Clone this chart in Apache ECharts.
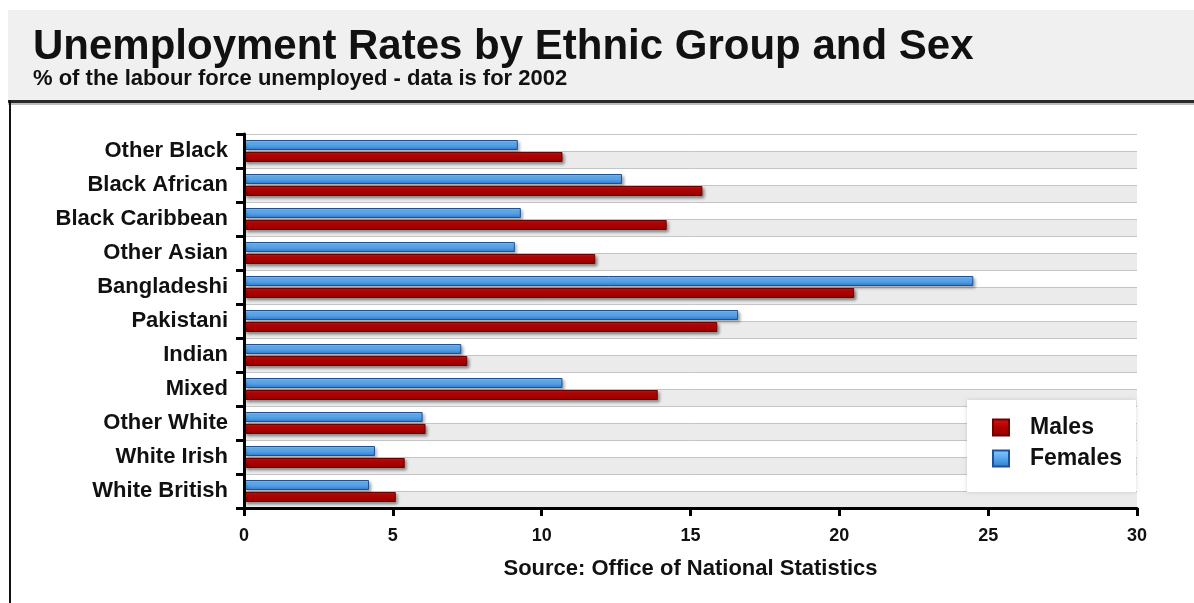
<!DOCTYPE html>
<html>
<head>
<meta charset="utf-8">
<script src="https://cdn.jsdelivr.net/npm/echarts@6/dist/echarts.min.js"></script>
<style>
html,body{margin:0;padding:0;background:#fff;}
#chart{width:1194px;height:603px;}
</style>
</head>
<body>
<div id="chart"></div>
<script>
// Data (categories listed bottom to top)
const categories = ['White British','White Irish','Other White','Mixed','Indian','Pakistani','Bangladeshi','Other Asian','Black Caribbean','Black African','Other Black'];
const males   = [5.1, 5.4, 6.1, 13.9, 7.5, 15.9, 20.5, 11.8, 14.2, 15.4, 10.7];
const females = [4.2, 4.4, 6.0, 10.7, 7.3, 16.6, 24.5, 9.1, 9.3, 12.7, 9.2];
const xTicks = [0, 5, 10, 15, 20, 25, 30];
const titleText = 'Unemployment Rates by Ethnic Group and Sex';
const subtitleText = '% of the labour force unemployed - data is for 2002';
const sourceText = 'Source: Office of National Statistics';

// half-row bands for the striped background
const halfRows = [];
categories.forEach(c => { halfRows.push(c + ' M'); halfRows.push(c + ' F'); });

const chart = echarts.init(document.getElementById('chart'));
const FONT = '"Liberation Sans", Arial, sans-serif';

chart.setOption({
  backgroundColor: '#ffffff',
  animation: false,
  graphic: [
    { type: 'rect', left: 8, top: 10, shape: { width: 1186, height: 91 }, style: { fill: '#f0f0f0' }, z: 0 },
    { type: 'rect', left: 8, top: 100, shape: { width: 1186, height: 3 }, style: { fill: '#2a2a2a' }, z: 1 },
    { type: 'rect', left: 8, top: 103, shape: { width: 1186, height: 2 }, style: { fill: '#bdbdbd' }, z: 1 },
    { type: 'rect', left: 9, top: 100, shape: { width: 2, height: 503 }, style: { fill: '#111' }, z: 1 }
  ],
  title: {
    text: titleText,
    subtext: subtitleText,
    left: 28,
    top: 21,
    itemGap: 0,
    textStyle: { fontFamily: FONT, fontSize: 42, fontWeight: 'bold', color: '#111' },
    subtextStyle: { fontFamily: FONT, fontSize: 22, fontWeight: 'bold', color: '#111', lineHeight: 22 }
  },
  legend: {
    data: ['Males', 'Females'],
    orient: 'vertical',
    left: 967,
    top: 400,
    padding: [16, 14, 22, 25],
    backgroundColor: '#ffffff',
    itemWidth: 16,
    itemHeight: 16,
    itemGap: 8,
    icon: 'rect',
    textStyle: { fontFamily: FONT, fontSize: 23, fontWeight: 'bold', color: '#111', padding: [0, 0, 0, 16] },
    shadowColor: 'rgba(0,0,0,0.15)',
    shadowBlur: 4
  },
  grid: { left: 244, right: 57, top: 134, bottom: 95, containLabel: false },
  xAxis: {
    type: 'value',
    min: 0,
    max: 30,
    interval: 5,
    name: sourceText,
    nameLocation: 'middle',
    nameGap: 50,
    nameTextStyle: { fontFamily: FONT, fontSize: 22, fontWeight: 'bold', color: '#111' },
    axisLine: { show: true, lineStyle: { color: '#000', width: 3 } },
    axisTick: { show: true, length: 8, lineStyle: { color: '#000', width: 3 } },
    axisLabel: { fontFamily: FONT, fontSize: 18, fontWeight: 'bold', color: '#111', margin: 19,
      formatter: v => xTicks.includes(v) ? String(v) : '' },
    splitLine: { show: false }
  },
  yAxis: [
    {
      type: 'category',
      data: categories,
      axisLine: { show: true, lineStyle: { color: '#000', width: 3 } },
      axisTick: { show: true, length: 8, lineStyle: { color: '#000', width: 3 } },
      axisLabel: { fontFamily: FONT, fontSize: 22, fontWeight: 'bold', color: '#111', margin: 16 },
      splitLine: { show: false },
      z: 5
    },
    {
      type: 'category',
      data: halfRows,
      position: 'left',
      axisLine: { show: false },
      axisTick: { show: false },
      axisLabel: { show: false },
      splitLine: { show: true, lineStyle: { color: '#c4c4c4', width: 1 } },
      splitArea: { show: true, areaStyle: { color: ['#ebebeb', '#ffffff'] } },
      z: 0
    }
  ],
  series: [
    {
      name: 'Females',
      type: 'bar',
      yAxisIndex: 0,
      data: females,
      barWidth: 10,
      barGap: '20%',
      itemStyle: {
        color: new echarts.graphic.LinearGradient(0, 0, 0, 1, [
          { offset: 0, color: '#8ccaff' },
          { offset: 0.5, color: '#56a6ee' },
          { offset: 1, color: '#3179cc' }
        ]),
        borderColor: '#1d5296',
        borderWidth: 1,
        shadowColor: 'rgba(0,0,0,0.35)',
        shadowBlur: 3,
        shadowOffsetX: 2,
        shadowOffsetY: 2
      }
    },
    {
      name: 'Males',
      type: 'bar',
      yAxisIndex: 0,
      data: males,
      barWidth: 10,
      barGap: '20%',
      itemStyle: {
        color: new echarts.graphic.LinearGradient(0, 0, 0, 1, [
          { offset: 0, color: '#d41414' },
          { offset: 0.5, color: '#b30000' },
          { offset: 1, color: '#8c0000' }
        ]),
        borderColor: '#6e0000',
        borderWidth: 1,
        shadowColor: 'rgba(0,0,0,0.45)',
        shadowBlur: 3,
        shadowOffsetX: 2,
        shadowOffsetY: 2
      }
    }
  ]
});
</script>
</body>
</html>
